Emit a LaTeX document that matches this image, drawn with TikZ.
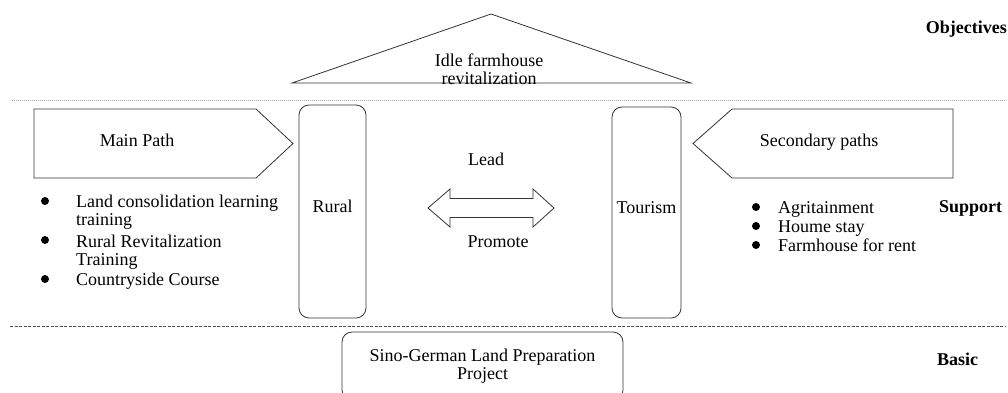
\documentclass[tikz,border=0pt]{standalone}
\usepackage{fontspec}
\setmainfont{Liberation Serif}
\usetikzlibrary{positioning}

\begin{document}
\begin{tikzpicture}[x=1pt,y=-1pt,
    every node/.style={font=\fontsize{18}{18}\selectfont,inner sep=0pt},
    outline/.style={draw=black!80,line width=0.8pt},
    pillar/.style={outline,rounded corners=10pt,text height=12pt,text depth=10pt},
    txt/.style={anchor=base},
    itm/.style={anchor=base west,align=left},
    bul/.style={circle,fill=black,minimum size=8pt},
    lvl/.style={anchor=base west,font=\fontsize{18}{18}\selectfont\bfseries},
    sep/.style={line width=0.7pt}
  ]
  \useasboundingbox (0,0) rectangle (1008,392);

  % objective roof
  \draw[outline,line join=miter] (292,83) -- (491,14) -- (691,83) -- cycle;
  \node[txt,align=center] (goal) at (489,84) {Idle farmhouse\\revitalization};
  \node[lvl,anchor=base east] (objectives) at (1007,33) {Objectives};

  % level separators
  \draw[sep,gray!70,dash pattern=on 1pt off 1pt] (12,100) -- (1005,100);
  \draw[sep,black!70,dash pattern=on 3pt off 1.5pt] (10,326) -- (1005,326);

  % paths
  \draw[outline] (34,109) -- (256,109) -- (293,143.5) -- (256,178) -- (34,178) -- cycle;
  \node[txt] (main) at (137,146) {Main Path};
  \draw[outline] (953,109) -- (732,109) -- (693,143.5) -- (732,178) -- (953,178) -- cycle;
  \node[txt] (second) at (819,146) {Secondary paths};

  % pillars
  \node[pillar,minimum width=67pt,minimum height=213pt] (rural) at (332.5,211.5) {Rural};
  \node[pillar,minimum width=69pt,minimum height=211pt] (tourism) at (646.5,212.5) {Tourism};

  % two-way arrow
  \draw[outline] (428,208) -- (450,189) -- (450,198.5) -- (533,198.5) -- (533,189)
    -- (554,208) -- (533,227) -- (533,217.5) -- (450,217.5) -- (450,227) -- cycle;
  \node[txt] (lead) at (486,165) {Lead};
  \node[txt] (promote) at (498,247) {Promote};

  % main path items (base = last line)
  \node[bul] (b1) at (45,201) {};
  \node[itm] (l1) at (76,225) {Land consolidation learning\\training};
  \node[bul] (b2) at (45,240) {};
  \node[itm] (l2) at (76,265) {Rural Revitalization\\Training};
  \node[bul] (b3) at (45,279) {};
  \node[itm] (l3) at (76,285) {Countryside Course};

  % secondary path items
  \node[bul] (b4) at (756,207) {};
  \node[itm] (r1) at (778,213) {Agritainment};
  \node[bul] (b5) at (756,226) {};
  \node[itm] (r2) at (778,232) {Houme stay};
  \node[bul] (b6) at (756,245) {};
  \node[itm] (r3) at (778,251) {Farmhouse for rent};
  \node[lvl] (support) at (939,212) {Support};

  % basis
  \node[outline,rounded corners=10pt,align=center,minimum width=281pt,minimum height=68pt] (project) at (482.5,366) {Sino-German Land Preparation\\Project};
  \node[lvl] (basic) at (937,365) {Basic};
\end{tikzpicture}
\end{document}
